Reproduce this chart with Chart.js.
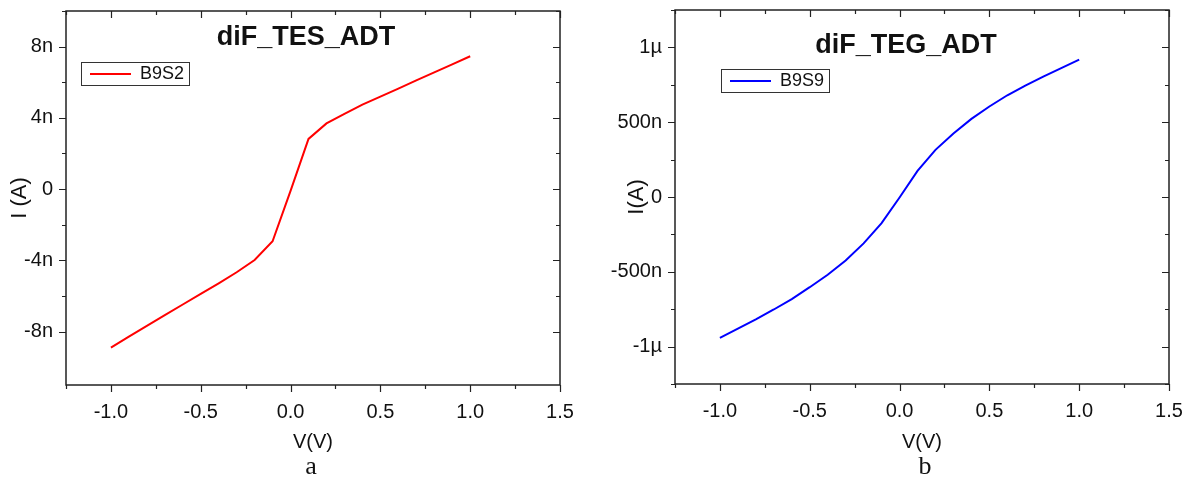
<!DOCTYPE html>
<html>
<head>
<meta charset="utf-8">
<script src="https://cdn.jsdelivr.net/npm/chart.js@4/dist/chart.umd.min.js"></script>
<style>
body { margin: 0; background: #fff; }
#wrap { position: relative; width: 1193px; height: 479px; }
.panel { position: absolute; top: 0; height: 479px; }
.cap { position: absolute; top: 453px; font-family: "Liberation Serif", "Times New Roman", serif; font-size: 26px; line-height: 26px; color: #111; transform: translateX(-50%); }
</style>
</head>
<body>
<div id="wrap">
  <div class="panel" style="left:0;width:597px"><canvas id="chartA" width="597" height="479"></canvas></div>
  <div class="panel" style="left:597px;width:596px"><canvas id="chartB" width="596" height="479"></canvas></div>
  <div class="cap" style="left:311px">a</div>
  <div class="cap" style="left:925px">b</div>
</div>
<script>
// voltage sweep, V
var voltage = [-1.0, -0.9, -0.8, -0.7, -0.6, -0.5, -0.4, -0.3, -0.2, -0.1, 0.0,
               0.1, 0.2, 0.3, 0.4, 0.5, 0.6, 0.7, 0.8, 0.9, 1.0];
// diF_TES_ADT, B9S2, current in nA
var currentB9S2 = [-8.9, -8.28, -7.68, -7.08, -6.48, -5.88, -5.29, -4.67, -3.98, -2.93, -0.1,
                   2.82, 3.69, 4.22, 4.74, 5.19, 5.64, 6.1, 6.55, 7.0, 7.46];
// diF_TEG_ADT, B9S9, current in nA
var currentB9S9 = [-942, -880, -818, -752, -682, -603, -520, -425, -310, -175, -3,
                   175, 315, 425, 522, 605, 680, 745, 805, 862, 918];

var FONT = '"Liberation Sans", Arial, sans-serif';
var INK = '#111';

function isMult(v, step) {
    var r = v / step;
    return Math.abs(r - Math.round(r)) < 1e-6;
}

function tickLen(v, major, minor) {
    if (isMult(v, major)) return 7;
    if (isMult(v, minor)) return 4;
    return 0;
}

function toPoints(ys) {
    var pts = [];
    for (var i = 0; i < voltage.length; i++) {
        pts.push({x: voltage[i], y: ys[i]});
    }
    return pts;
}

// box frame, mirrored ticks, in-plot title, legend frame
var decor = {
    id: 'decor',
    afterDraw: function(chart, args, opts) {
        var ctx = chart.ctx, a = chart.chartArea;
        var xs = chart.scales.x, ys = chart.scales.y;
        ctx.save();
        ctx.strokeStyle = '#222';
        ctx.lineWidth = 1.5;
        ctx.strokeRect(a.left, a.top, a.right - a.left, a.bottom - a.top);

        ctx.lineWidth = 1.2;
        ctx.beginPath();
        xs.ticks.forEach(function(t) {
            var len = tickLen(t.value, opts.xMajor, opts.xMinor);
            if (!len) return;
            var px = Math.round(xs.getPixelForValue(t.value)) + 0.5;
            ctx.moveTo(px, a.bottom); ctx.lineTo(px, a.bottom + len);
            ctx.moveTo(px, a.top); ctx.lineTo(px, a.top + len);
        });
        ys.ticks.forEach(function(t) {
            var len = tickLen(t.value, opts.yMajor, opts.yMinor);
            if (!len) return;
            var py = Math.round(ys.getPixelForValue(t.value)) + 0.5;
            ctx.moveTo(a.left - len, py); ctx.lineTo(a.left, py);
            ctx.moveTo(a.right - len, py); ctx.lineTo(a.right, py);
        });
        ctx.stroke();

        ctx.fillStyle = INK;
        ctx.font = 'bold 27px ' + FONT;
        ctx.textAlign = 'center';
        ctx.textBaseline = 'alphabetic';
        ctx.fillText(opts.title, opts.titleX, opts.titleY);

        var hb = chart.legend.legendHitBoxes[0];
        if (hb) {
            var cy = hb.top + 9;
            ctx.strokeStyle = '#333';
            ctx.lineWidth = 1;
            ctx.strokeRect(Math.round(hb.left - 9) + 0.5, Math.round(cy - 12) + 0.5,
                           Math.round(hb.width + 14), 23);
        }
        ctx.restore();
    }
};

function makeChart(id, cfg) {
    return new Chart(document.getElementById(id), {
        type: 'line',
        data: {
            datasets: [{
                label: cfg.label,
                data: toPoints(cfg.values),
                borderColor: cfg.color,
                backgroundColor: cfg.color,
                borderWidth: 2,
                pointRadius: 0,
                tension: 0
            }]
        },
        options: {
            responsive: false,
            animation: false,
            events: [],
            layout: { padding: cfg.pad },
            plugins: {
                tooltip: { enabled: false },
                legend: {
                    position: 'chartArea',
                    align: 'start',
                    title: { display: true, text: ' ', font: { size: 1 }, padding: cfg.legTitlePad },
                    labels: {
                        boxWidth: 41,
                        boxHeight: 0,
                        padding: cfg.legPad,
                        color: INK,
                        font: { family: FONT, size: 18 }
                    }
                },
                decor: cfg.decor
            },
            scales: {
                x: {
                    type: 'linear',
                    min: -1.25,
                    max: 1.5,
                    afterFit: function(s) {
                        s.height = cfg.xHeight;
                        s.paddingLeft = 0;
                        s.paddingRight = 0;
                    },
                    grid: { display: false, drawTicks: false },
                    border: { display: false },
                    ticks: {
                        stepSize: 0.25,
                        autoSkip: false,
                        maxRotation: 0,
                        padding: 15,
                        color: INK,
                        font: { family: FONT, size: 20 },
                        callback: function(v) { return isMult(v, 0.5) ? v.toFixed(1) : ''; }
                    },
                    title: {
                        display: true,
                        text: 'V(V)',
                        color: INK,
                        font: { family: FONT, size: 20 },
                        padding: { top: 0, bottom: 25 }
                    }
                },
                y: {
                    min: cfg.yMin,
                    max: cfg.yMax,
                    afterFit: function(s) {
                        s.width = cfg.yWidth;
                        s.paddingTop = 0;
                        s.paddingBottom = 0;
                    },
                    grid: { display: false, drawTicks: false },
                    border: { display: false },
                    ticks: {
                        stepSize: cfg.yStep,
                        autoSkip: false,
                        padding: 13,
                        color: INK,
                        font: { family: FONT, size: 20 },
                        callback: cfg.yLabel
                    },
                    title: {
                        display: true,
                        text: cfg.yTitle,
                        color: INK,
                        font: { family: FONT, size: 22 },
                        padding: { top: cfg.yTitlePad, bottom: 0 }
                    }
                }
            }
        },
        plugins: [decor]
    });
}

makeChart('chartA', {
    label: 'B9S2',
    values: currentB9S2,
    color: '#ff0000',
    pad: { left: 0, right: 37, top: 11, bottom: 0 },
    xHeight: 94,
    yWidth: 66,
    yMin: -11,
    yMax: 10,
    yStep: 2,
    yTitle: 'I (A)',
    yTitlePad: 7,
    legPad: 24,
    legTitlePad: 19.9,
    yLabel: function(v) {
        if (!isMult(v, 4)) return '';
        return v === 0 ? '0' : v + 'n';
    },
    decor: { title: 'diF_TES_ADT', titleX: 306, titleY: 45, xMajor: 0.5, xMinor: 0.25, yMajor: 4, yMinor: 2 }
});

makeChart('chartB', {
    label: 'B9S9',
    values: currentB9S9,
    color: '#0000ff',
    pad: { left: 0, right: 24, top: 10, bottom: 0 },
    xHeight: 95,
    yWidth: 78,
    yMin: -1250,
    yMax: 1250,
    yStep: 250,
    yTitle: 'I(A)',
    yTitlePad: 27,
    legPad: 55,
    legTitlePad: 7.9,
    yLabel: function(v) {
        if (!isMult(v, 500)) return '';
        if (v === 0) return '0';
        if (Math.abs(v) === 1000) return (v < 0 ? '-' : '') + '1\u00b5';
        return v + 'n';
    },
    decor: { title: 'diF_TEG_ADT', titleX: 309, titleY: 53, xMajor: 0.5, xMinor: 0.25, yMajor: 500, yMinor: 250 }
});
</script>
</body>
</html>
